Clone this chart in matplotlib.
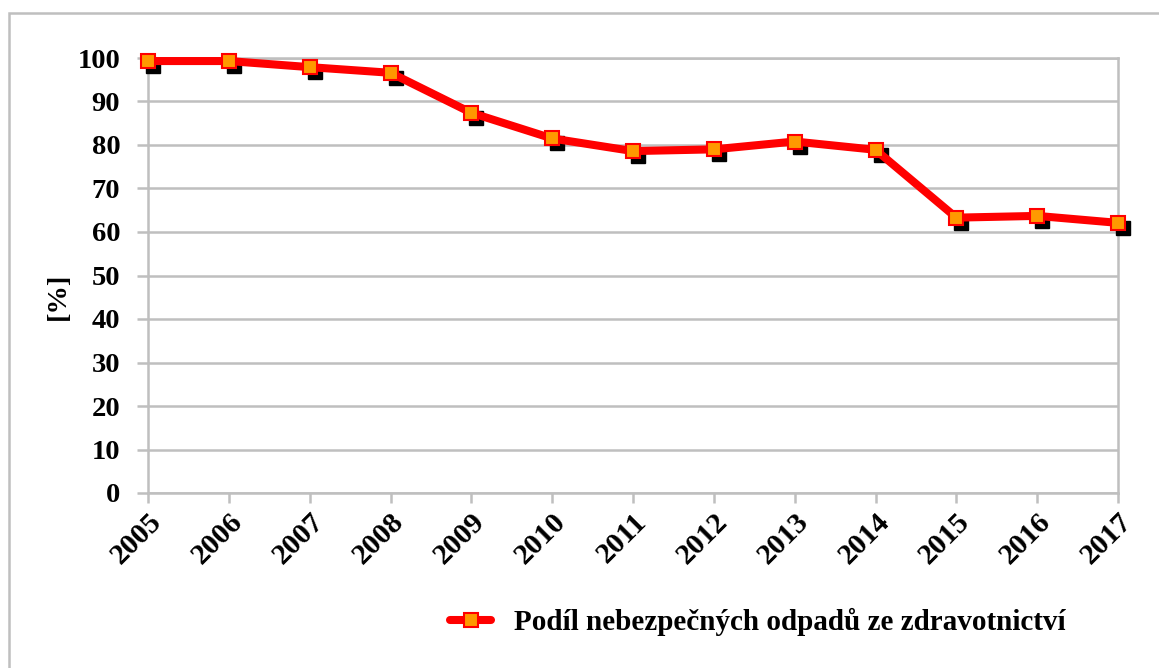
import matplotlib.pyplot as plt
import matplotlib.transforms as mtransforms
from matplotlib.patches import Rectangle

years = ['2005', '2006', '2007', '2008', '2009', '2010', '2011',
         '2012', '2013', '2014', '2015', '2016', '2017']
share = [99.3, 99.3, 97.9, 96.6, 87.4, 81.5, 78.6, 79.0, 80.8, 78.9, 63.3, 63.7, 62.1]
series_label = 'Podíl nebezpečných odpadů ze zdravotnictví'
yticks = list(range(0, 101, 10))

plt.rcParams['font.family'] = ['Liberation Serif', 'DejaVu Serif']
plt.rcParams['font.weight'] = 'bold'

W, H = 1159, 668
fig = plt.figure(figsize=(W / 100, H / 100), dpi=100)
ax = fig.add_axes([148 / W, 1 - 493 / H, (1118 - 148) / W, (493 - 58) / H])

grid = '#BFBFBF'
x = list(range(len(years)))

# black marker shadows, shifted down-right a few pixels
shadow = ax.transData + mtransforms.ScaledTranslation(5 / 100, -5 / 100, fig.dpi_scale_trans)
ax.plot(x, share, ls='none', marker='s', ms=9.5, mfc='black', mec='black',
        transform=shadow, zorder=3, clip_on=False)
ax.plot(x, share, color='#FF0000', lw=5.8, marker='s', ms=9.5, mfc='#FF9900',
        mec='#FF0000', mew=1.5, label=series_label, zorder=4, solid_capstyle='round',
        clip_on=False)

ax.set_xlim(0, len(years) - 1)
ax.set_ylim(0, 100)
ax.set_yticks(yticks)
ax.set_xticks(x)
ax.set_xticklabels(years, rotation=45, ha='right', rotation_mode='anchor')
ax.tick_params(axis='both', color=grid, width=1.8)
ax.tick_params(axis='y', length=8, pad=12, labelsize=20.5)
ax.tick_params(axis='x', length=7, pad=4, labelsize=21.5)
ax.grid(axis='y', color=grid, lw=1.8)
ax.set_axisbelow(True)
for s in ax.spines.values():
    s.set_color(grid)
    s.set_linewidth(1.8)

fig.text(58 / W, 1 - 296 / H, '[%]', rotation=90, ha='center', va='center',
         fontsize=20.5, fontweight='bold')

leg = fig.legend(loc='center', bbox_to_anchor=(758 / W, 1 - 622 / H), frameon=False,
                 fontsize=21, handlelength=1.4, handletextpad=0.8)

# outer chart border
fig.patches.append(Rectangle((9 / W, -0.05), 1.1, 1 - 13 / H + 0.05, transform=fig.transFigure,
                             fill=False, ec=grid, lw=1.8, clip_on=False))

fig.savefig('out.png', dpi=100)
